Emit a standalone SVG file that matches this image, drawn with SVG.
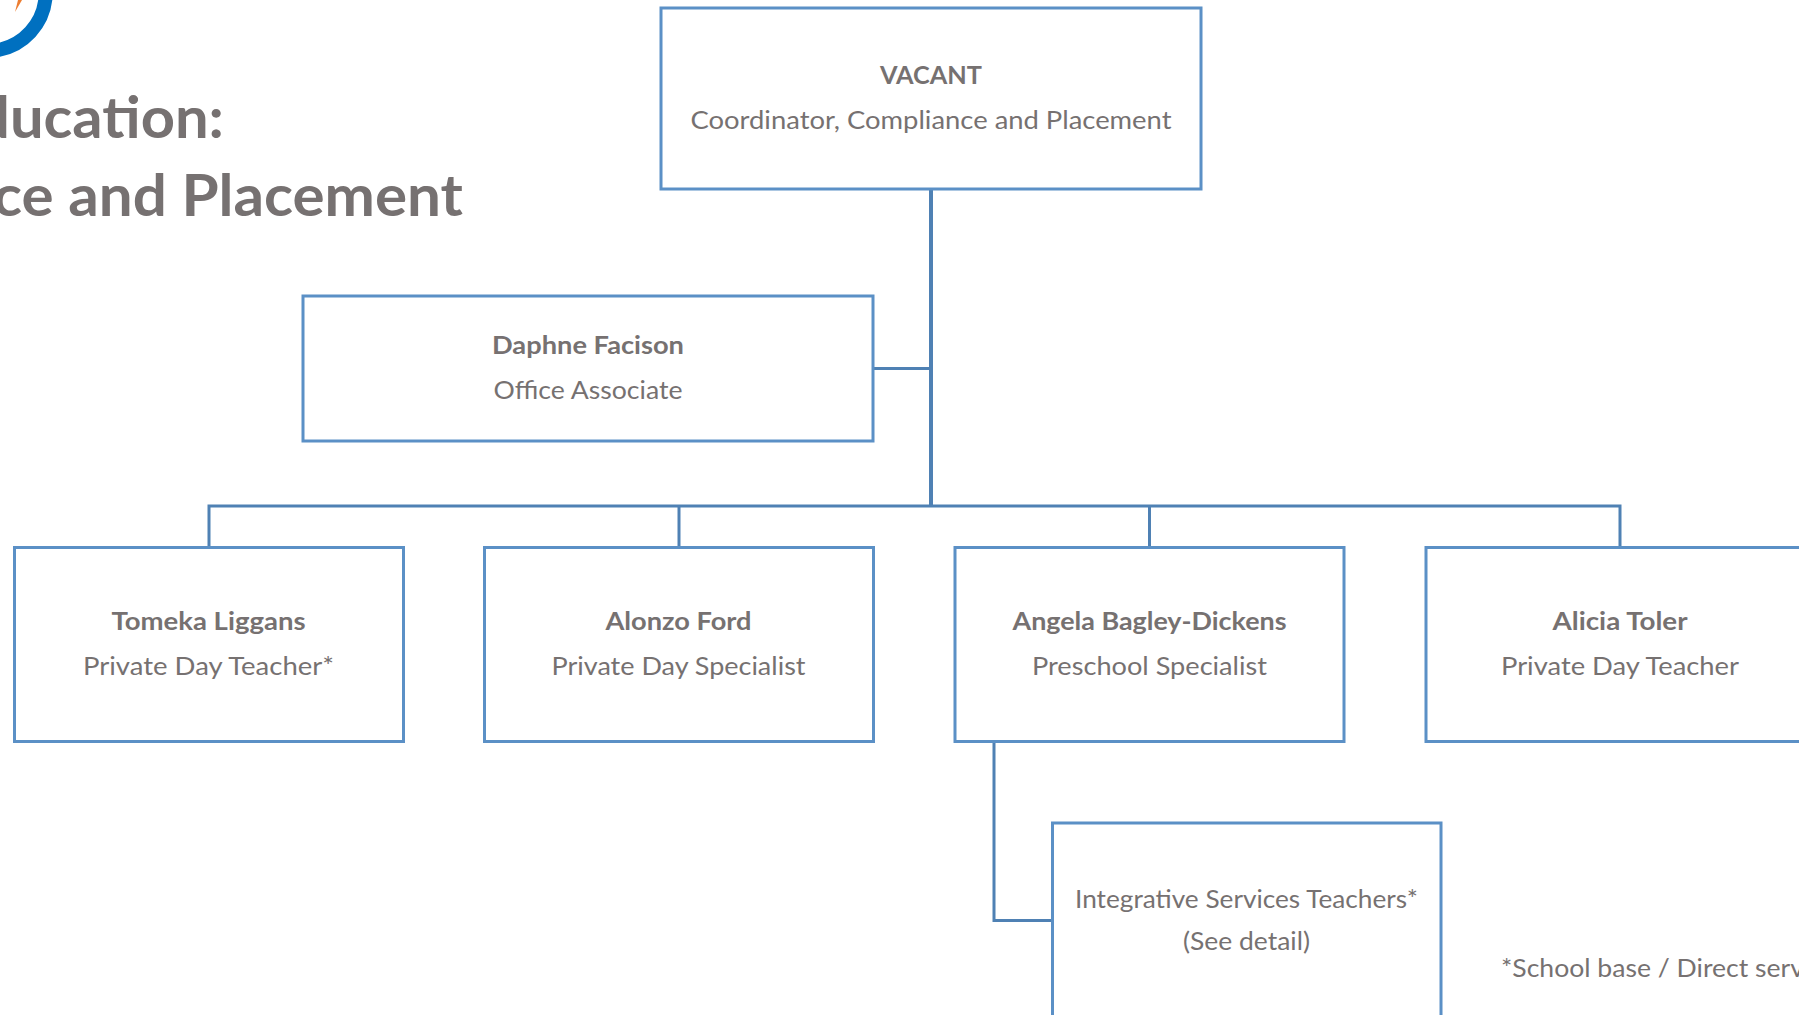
<svg xmlns="http://www.w3.org/2000/svg" width="1799" height="1015" viewBox="0 0 1799 1015">
<style>
.box{fill:#fff;stroke:#5b90c6;stroke-width:3}
#connectors path{fill:none;stroke:#4f81b4;stroke-width:3}
#connectors path.trunk{stroke-width:4}
text{font-family:"Lato","Carlito","Liberation Sans",sans-serif;fill:#767171;font-size:25.500px;text-anchor:middle}
.b{font-weight:700}
.t{font-weight:700;font-size:58px;text-anchor:end}
</style>
<rect width="1799" height="1015" fill="#fff"/>
<g id="logo">
<path d="M45.500 -2A58.500 58.500 0 0 1 -2 50" fill="none" stroke="#0070c0" stroke-width="14"/>
<path d="M22 0L15 12L18 0Z" fill="#ed7d31"/>
</g>
<g id="title">
<text class="t" x="224" y="138" textLength="248" lengthAdjust="spacingAndGlyphs">ducation:</text>
<text class="t" x="463" y="216" textLength="470" lengthAdjust="spacingAndGlyphs">ce and Placement</text>
</g>
<g id="connectors">
<path class="trunk" d="M931 189V506"/>
<path d="M873 368.500H931"/>
<path d="M209 548V506H1620V548"/>
<path d="M679 506V548"/>
<path d="M1149.500 506V548"/>
<path d="M994 742V920.500H1053"/>
</g>
<g id="n-vacant"><rect class="box" x="661" y="8" width="540" height="181"/>
<text class="b" x="931" y="84" textLength="102" lengthAdjust="spacingAndGlyphs">VACANT</text><text x="931" y="129" textLength="481" lengthAdjust="spacingAndGlyphs">Coordinator, Compliance and Placement</text></g>
<g id="n-daphne"><rect class="box" x="303" y="296" width="570" height="145"/>
<text class="b" x="588" y="354" textLength="192" lengthAdjust="spacingAndGlyphs">Daphne Facison</text><text x="588" y="399" textLength="189" lengthAdjust="spacingAndGlyphs">Office Associate</text></g>
<g id="n-tomeka"><rect class="box" x="14.500" y="547.500" width="389" height="194"/>
<text class="b" x="208.500" y="630" textLength="194" lengthAdjust="spacingAndGlyphs">Tomeka Liggans</text><text x="208.500" y="675" textLength="251" lengthAdjust="spacingAndGlyphs">Private Day Teacher*</text></g>
<g id="n-alonzo"><rect class="box" x="484.500" y="547.500" width="389" height="194"/>
<text class="b" x="678.500" y="630" textLength="146" lengthAdjust="spacingAndGlyphs">Alonzo Ford</text><text x="678.500" y="675" textLength="254" lengthAdjust="spacingAndGlyphs">Private Day Specialist</text></g>
<g id="n-angela"><rect class="box" x="955" y="547.500" width="389" height="194"/>
<text class="b" x="1149.500" y="630" textLength="274" lengthAdjust="spacingAndGlyphs">Angela Bagley-Dickens</text><text x="1149.500" y="675" textLength="235" lengthAdjust="spacingAndGlyphs">Preschool Specialist</text></g>
<g id="n-alicia"><rect class="box" x="1426" y="547.500" width="389" height="194"/>
<text class="b" x="1620" y="630" textLength="135" lengthAdjust="spacingAndGlyphs">Alicia Toler</text><text x="1620" y="675" textLength="238" lengthAdjust="spacingAndGlyphs">Private Day Teacher</text></g>
<g id="n-integrative"><rect class="box" x="1052.500" y="823" width="388.500" height="210"/>
<text x="1246.500" y="908" textLength="343" lengthAdjust="spacingAndGlyphs">Integrative Services Teachers*</text><text x="1246.500" y="950" textLength="127" lengthAdjust="spacingAndGlyphs">(See detail)</text></g>
<text id="footnote" x="1501" y="977" style="text-anchor:start" textLength="303" lengthAdjust="spacingAndGlyphs">*School base / Direct serv</text>
</svg>
